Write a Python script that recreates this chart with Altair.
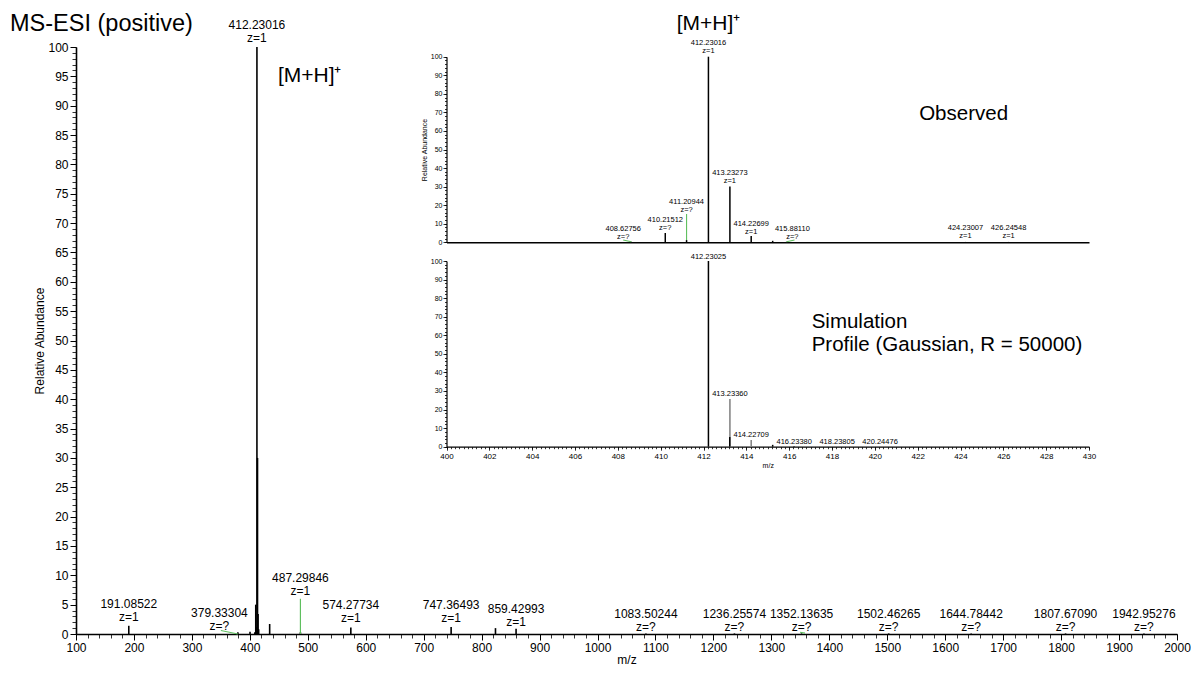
import altair as alt
import pandas as pd

FONT = "Liberation Sans"
GREEN = "#5fbf5f"

# ---------------- main spectrum (m/z 100-2000) ----------------
main_mz = [191.08522, 379.33304, 400.3, 408.63, 410.21512, 411.20944, 412.23016,
           413.23273, 414.22699, 415.23, 434.2, 487.29846, 574.27734, 747.36493,
           823.9, 859.42993, 1083.50244, 1236.25574, 1352.13635, 1502.46265,
           1644.78442, 1807.67090, 1942.95276]
main_int = [1.4, 0.3, 0.4, 0.3, 5.0, 1.2, 100.0,
            30.0, 3.4, 0.8, 1.7, 0.3, 1.1, 1.2,
            1.0, 0.9, 0.1, 0.1, 0.1, 0.1,
            0.1, 0.1, 0.1]

main_lab_mz = [191.08522, 347.5, 412.23016, 487.29846, 574.27734, 747.36493,
               859.42993, 1083.50244, 1236.25574, 1352.13635, 1502.46265,
               1644.78442, 1807.67090, 1942.95276]
main_lab_int = [1.7, 0.2, 100.3, 6.1, 1.5, 1.5, 0.9, 0.05, 0.05, 0.05, 0.05, 0.05, 0.05, 0.05]
main_lab_num = ["191.08522", "379.33304", "412.23016", "487.29846", "574.27734",
                "747.36493", "859.42993", "1083.50244", "1236.25574", "1352.13635",
                "1502.46265", "1644.78442", "1807.67090", "1942.95276"]
main_lab_z = ["z=1", "z=?", "z=1", "z=1", "z=1", "z=1", "z=1",
              "z=?", "z=?", "z=?", "z=?", "z=?", "z=?", "z=?"]

main_ld_mz = [350.0, 487.29846, 1349.5]
main_ld_int = [0.6, 6.0, 0.3]
main_ld_mz2 = [379.33304, 487.29846, 1358.0]
main_ld_int2 = [0.0, 0.0, 0.15]

main_note_text = ["[M+H]\u207a"]
main_note_mz = [448.4]
main_note_int = [95.1]
chart_title = ["MS-ESI (positive)"]

# ---------------- inset: observed (m/z 400-430) ----------------
obs_mz = [408.62756, 410.21512, 411.20944, 412.23016, 413.23273, 414.22699,
          415.23, 415.88110, 424.23007, 426.24548]
obs_int = [0.3, 5.0, 1.2, 100.0, 30.0, 3.4, 0.8, 0.3, 0.2, 0.2]

obs_lab_mz = [408.25, 410.21512, 411.20944, 412.23016, 413.23273, 414.22699,
              416.15, 424.23007, 426.24548]
obs_lab_int = [0.5, 5.7, 15.2, 100.8, 31.0, 3.5, 0.5, 1.2, 1.2]
obs_lab_num = ["408.62756", "410.21512", "411.20944", "412.23016", "413.23273",
               "414.22699", "415.88110", "424.23007", "426.24548"]
obs_lab_z = ["z=?", "z=?", "z=?", "z=1", "z=1", "z=1", "z=?", "z=1", "z=1"]

obs_ld_mz = [408.25, 411.20944, 415.88]
obs_ld_int = [1.2, 15.2, 0.3]
obs_ld_mz2 = [408.62756, 411.20944, 416.25]
obs_ld_int2 = [0.3, 1.2, 1.2]

obs_note_text = ["[M+H]\u207a", "Observed"]
obs_note_mz = [410.75, 422.07]
obs_note_int = [117.6, 68.9]
obs_note_size = [21, 20.5]

# ---------------- inset: simulation (m/z 400-430) ----------------
sim_black_mz = [412.23025, 413.225, 415.23, 416.23]
sim_black_int = [100.0, 5.2, 1.0, 0.3]
sim_gray_mz = [413.2336, 414.22709]
sim_gray_int = [25.7, 3.6]

sim_lab_mz = [412.23025, 413.2336, 414.22709, 416.2338, 418.23805, 420.24476]
sim_lab_int = [99.8, 26.2, 4.1, 0.5, 0.5, 0.5]
sim_lab_text = ["412.23025", "413.23360", "414.22709", "416.23380", "418.23805", "420.24476"]

sim_note_text = ["Simulation", "Profile (Gaussian, R = 50000)"]
sim_note_mz = [417.05, 417.05]
sim_note_int = [67.3, 54.8]

# ---------------- layout ----------------
W, H = 1101, 587
INSET_X = [370.5, 1013.0]
OBS_Y = [195.3, 9.7]
SIM_Y = [399.7, 214.0]

xs_main = alt.Scale(domain=[100, 2000], nice=False, zero=False)
ys_main = alt.Scale(domain=[0, 100], nice=False, zero=False)
xs_in = alt.Scale(domain=[400, 430], range=INSET_X, nice=False, zero=False)
ys_obs = alt.Scale(domain=[0, 100], range=OBS_Y, nice=False, zero=False)
ys_sim = alt.Scale(domain=[0, 100], range=SIM_Y, nice=False, zero=False)

# ---------------- tables ----------------
main_df = pd.DataFrame({"mz": main_mz, "int": main_int})
main_lab_df = pd.DataFrame({"mz": main_lab_mz, "int": main_lab_int,
                            "label": [a + "\n" + b for a, b in zip(main_lab_num, main_lab_z)]})
main_ld_df = pd.DataFrame({"mz": main_ld_mz, "int": main_ld_int,
                           "mz2": main_ld_mz2, "int2": main_ld_int2})
main_note_df = pd.DataFrame({"mz": main_note_mz, "int": main_note_int, "label": main_note_text})
title_df = pd.DataFrame({"label": chart_title})

obs_df = pd.DataFrame({"mz": obs_mz, "int": obs_int})
obs_lab_df = pd.DataFrame({"mz": obs_lab_mz, "int": obs_lab_int,
                           "label": [a + "\n" + b for a, b in zip(obs_lab_num, obs_lab_z)]})
obs_ld_df = pd.DataFrame({"mz": obs_ld_mz, "int": obs_ld_int,
                          "mz2": obs_ld_mz2, "int2": obs_ld_int2})
obs_note_df = pd.DataFrame({"mz": obs_note_mz, "int": obs_note_int,
                            "label": obs_note_text, "size": obs_note_size})

sim_black_df = pd.DataFrame({"mz": sim_black_mz, "int": sim_black_int})
sim_gray_df = pd.DataFrame({"mz": sim_gray_mz, "int": sim_gray_int})
sim_lab_df = pd.DataFrame({"mz": sim_lab_mz, "int": sim_lab_int, "label": sim_lab_text})
sim_note_df = pd.DataFrame({"mz": sim_note_mz, "int": sim_note_int, "label": sim_note_text})

# ---------------- axes ----------------
def minor_axis(orient, values, size, offset=0):
    return alt.Axis(orient=orient, values=values, tickSize=size, labels=False,
                    domain=False, title="", offset=offset, tickWidth=0.8,
                    grid=False, labelOverlap=False)

ax_main_x = alt.Axis(orient="bottom", values=list(range(100, 2001, 100)), format="d",
                     tickSize=6, title="m/z", titleFontSize=12, titleFontWeight="normal",
                     titlePadding=1, labelFontSize=12, labelPadding=2, labelFlush=False,
                     labelOverlap=False, domainWidth=1.6, tickWidth=1, grid=False)
ax_main_x_minor = minor_axis("bottom", list(range(100, 2001, 20)), 4)
ax_main_y = alt.Axis(orient="left", values=list(range(0, 101, 5)), format="d",
                     tickSize=6, title="Relative Abundance", titleFontSize=12,
                     titleFontWeight="normal", titlePadding=1, labelFontSize=12,
                     labelPadding=2, labelOverlap=False, domainWidth=1.6, tickWidth=1,
                     grid=False)
ax_main_y_minor = minor_axis("left", list(range(0, 101)), 4)

ax_obs_x = alt.Axis(orient="bottom", offset=-(H - OBS_Y[0]), ticks=False, labels=False,
                    title="", domainWidth=1.5, grid=False)
ax_obs_y = alt.Axis(orient="left", offset=-INSET_X[0], values=list(range(0, 101, 10)),
                    format="d", tickSize=3.5,
                    title="Relative Abundance", titleFontSize=7, titleFontWeight="normal",
                    titlePadding=3, labelFontSize=7, labelPadding=1, labelOverlap=False,
                    domainWidth=1.2, tickWidth=0.8, grid=False)
ax_obs_y_minor = minor_axis("left", list(range(0, 101, 2)), 2, offset=-INSET_X[0])

ax_sim_x = alt.Axis(orient="bottom", offset=-(H - SIM_Y[0]), values=list(range(400, 431, 2)),
                    format="d", tickSize=3.5,
                    title="m/z", titleFontSize=7, titleFontWeight="normal", titlePadding=1,
                    labelFontSize=8, labelPadding=2, labelFlush=False, labelOverlap=False,
                    domainWidth=1.2, tickWidth=0.8, grid=False)
ax_sim_x_minor = minor_axis("bottom", [round(400 + 0.2 * i, 1) for i in range(151)], 2,
                            offset=-(H - SIM_Y[0]))
ax_sim_y = alt.Axis(orient="left", offset=-INSET_X[0], values=list(range(0, 101, 10)),
                    format="d", tickSize=3.5,
                    title="", labelFontSize=7, labelPadding=1, labelOverlap=False,
                    domainWidth=1.2, tickWidth=0.8, grid=False)
ax_sim_y_minor = minor_axis("left", list(range(0, 101, 2)), 2, offset=-INSET_X[0])

# ---------------- main layer ----------------
main_rules = alt.Chart(main_df).mark_rule(color="black", strokeWidth=1.6).encode(
    x=alt.X("mz:Q", scale=xs_main, axis=ax_main_x),
    y=alt.Y("int:Q", scale=ys_main, axis=ax_main_y),
    y2=alt.datum(0),
)
main_leaders = alt.Chart(main_ld_df).mark_rule(color=GREEN, strokeWidth=1.2).encode(
    x=alt.X("mz:Q", scale=xs_main, axis=ax_main_x_minor), x2="mz2:Q",
    y=alt.Y("int:Q", scale=ys_main, axis=ax_main_y_minor), y2="int2:Q",
)
main_labels = alt.Chart(main_lab_df).mark_text(
    align="center", baseline="bottom", fontSize=12, lineHeight=13, lineBreak="\n",
    dy=-13, font=FONT, color="black"
).encode(
    x=alt.X("mz:Q", scale=xs_main, axis=None),
    y=alt.Y("int:Q", scale=ys_main, axis=None),
    text="label:N",
)
main_notes = alt.Chart(main_note_df).mark_text(
    align="left", baseline="middle", fontSize=21, font=FONT, color="black"
).encode(
    x=alt.X("mz:Q", scale=xs_main, axis=None),
    y=alt.Y("int:Q", scale=ys_main, axis=None),
    text="label:N",
)
title_text = alt.Chart(title_df).mark_text(
    align="left", baseline="middle", fontSize=23.5, font=FONT, color="black"
).encode(x=alt.value(-66), y=alt.value(-23), text="label:N")

main_layer = alt.layer(main_rules, main_leaders, main_labels, main_notes,
                       title_text).resolve_axis(x="independent", y="independent")

# ---------------- observed inset ----------------
obs_rules = alt.Chart(obs_df).mark_rule(color="black", strokeWidth=1.5).encode(
    x=alt.X("mz:Q", scale=xs_in, axis=ax_obs_x),
    y=alt.Y("int:Q", scale=ys_obs, axis=ax_obs_y),
    y2=alt.datum(0),
)
obs_leaders = alt.Chart(obs_ld_df).mark_rule(color=GREEN, strokeWidth=1.1).encode(
    x=alt.X("mz:Q", scale=xs_in, axis=None), x2="mz2:Q",
    y=alt.Y("int:Q", scale=ys_obs, axis=ax_obs_y_minor), y2="int2:Q",
)
obs_labels = alt.Chart(obs_lab_df).mark_text(
    align="center", baseline="bottom", fontSize=7.5, lineHeight=8, lineBreak="\n",
    dy=-8, font=FONT, color="black"
).encode(
    x=alt.X("mz:Q", scale=xs_in, axis=None),
    y=alt.Y("int:Q", scale=ys_obs, axis=None),
    text="label:N",
)
obs_notes = alt.Chart(obs_note_df).mark_text(
    align="left", baseline="middle", font=FONT, color="black"
).encode(
    x=alt.X("mz:Q", scale=xs_in, axis=None),
    y=alt.Y("int:Q", scale=ys_obs, axis=None),
    size=alt.Size("size:Q", scale=None, legend=None),
    text="label:N",
)
obs_layer = alt.layer(obs_rules, obs_leaders, obs_labels,
                      obs_notes).resolve_axis(x="independent", y="independent")

# ---------------- simulation inset ----------------
sim_gray = alt.Chart(sim_gray_df).mark_rule(color="#7f7f7f", strokeWidth=1.5).encode(
    x=alt.X("mz:Q", scale=xs_in, axis=ax_sim_x),
    y=alt.Y("int:Q", scale=ys_sim, axis=ax_sim_y),
    y2=alt.datum(0),
)
sim_black = alt.Chart(sim_black_df).mark_rule(color="black", strokeWidth=1.5).encode(
    x=alt.X("mz:Q", scale=xs_in, axis=ax_sim_x_minor),
    y=alt.Y("int:Q", scale=ys_sim, axis=ax_sim_y_minor),
    y2=alt.datum(0),
)
sim_labels = alt.Chart(sim_lab_df).mark_text(
    align="center", baseline="bottom", fontSize=7.5, font=FONT, color="black"
).encode(
    x=alt.X("mz:Q", scale=xs_in, axis=None),
    y=alt.Y("int:Q", scale=ys_sim, axis=None),
    text="label:N",
)
sim_notes = alt.Chart(sim_note_df).mark_text(
    align="left", baseline="middle", fontSize=20.5, font=FONT, color="black"
).encode(
    x=alt.X("mz:Q", scale=xs_in, axis=None),
    y=alt.Y("int:Q", scale=ys_sim, axis=None),
    text="label:N",
)
sim_layer = alt.layer(sim_gray, sim_black, sim_labels,
                      sim_notes).resolve_axis(x="independent", y="independent")

chart = alt.layer(main_layer, obs_layer, sim_layer).resolve_scale(
    x="independent", y="independent"
).properties(
    width=W, height=H,
    autosize=alt.AutoSizeParams(type="none"),
    padding={"left": 68, "top": 39, "right": 14, "bottom": 34},
).configure_view(stroke=None).configure_axis(
    labelFont=FONT, titleFont=FONT, labelColor="black", titleColor="black",
    domainColor="black", tickColor="black", grid=False,
)

chart.save("out.html", embed_options={"renderer": "svg", "actions": False})
